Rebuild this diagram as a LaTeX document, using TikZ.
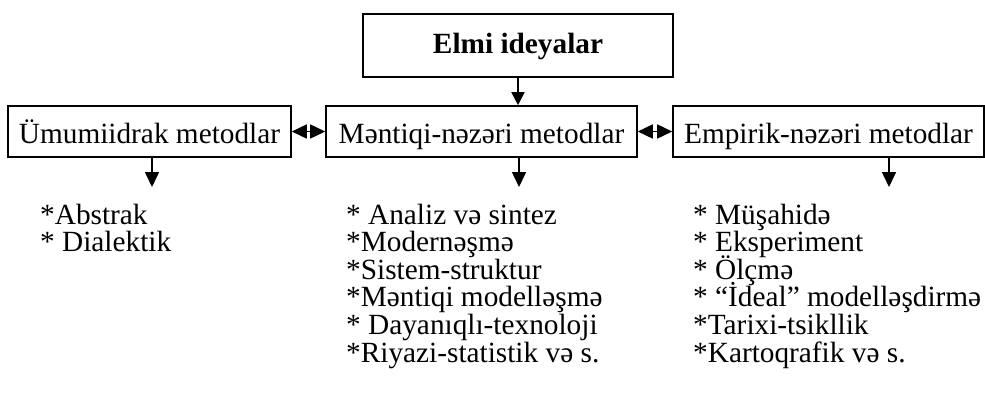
\documentclass[tikz,border=0pt]{standalone}
\usepackage{fontspec}
\setmainfont{Liberation Serif}
\usetikzlibrary{arrows.meta}
\begin{document}
\begin{tikzpicture}[x=1pt,y=-1pt,
  txt/.style={font=\fontsize{29.3}{27.6}\selectfont, inner sep=0pt},
  box/.style={draw, line width=1.6pt, inner sep=0pt, font=\fontsize{29.3}{27.6}\selectfont},
  sidebox/.style={box, minimum height=51pt, text height=26pt, text depth=3pt},
  conn/.style={line width=1.6pt, -{Triangle[length=15pt,width=14pt]}},
  dconn/.style={line width=1.6pt, {Triangle[length=15pt,width=14pt]}-{Triangle[length=15pt,width=14pt]}}]
\useasboundingbox (0,0) rectangle (985,397);

\node[box, font=\fontsize{29.3}{27.6}\selectfont\bfseries, minimum width=310pt, minimum height=63pt, text height=20pt, text depth=5pt] (top) at (518,45.5) {Elmi ideyalar};

\node[sidebox, minimum width=283pt] (left) at (149.5,131.5) {Ümumiidrak metodlar};
\node[sidebox, minimum width=311pt] (mid) at (481.5,131.5) {Məntiqi-nəzəri metodlar};
\node[sidebox, minimum width=311pt] (right) at (828.5,131.5) {Empirik-nəzəri metodlar};

\draw[line width=1.6pt, -{Triangle[length=13pt,width=13pt]}] (top.south) -- (top.south |- mid.north);
\draw[dconn] (left.east) -- (mid.west);
\draw[dconn] (mid.east) -- (right.west);

\coordinate (lend) at (152,187);
\coordinate (mend) at (519,187);
\coordinate (rend) at (889,187);
\draw[conn] (lend |- left.south) -- (lend);
\draw[conn] (mend |- mid.south) -- (mend);
\draw[conn] (rend |- right.south) -- (rend);

\foreach \t [count=\i] in {*Abstrak, * Dialektik}
  \node[txt, anchor=base west] (l\i) at (40,{224+27.6*(\i-1)}) {\t};

\foreach \t [count=\i] in {* Analiz və sintez, *Modernəşmə, *Sistem-struktur, *Məntiqi modelləşmə, * Dayanıqlı-texnoloji, *Riyazi-statistik və s.}
  \node[txt, anchor=base west] (m\i) at (346,{224+27.6*(\i-1)}) {\t};

\foreach \t [count=\i] in {* Müşahidə, * Eksperiment, * Ölçmə, * “İdeal” modelləşdirmə, *Tarixi-tsikllik, *Kartoqrafik və s.}
  \node[txt, anchor=base west] (r\i) at (693,{224+27.6*(\i-1)}) {\t};
\end{tikzpicture}
\end{document}
